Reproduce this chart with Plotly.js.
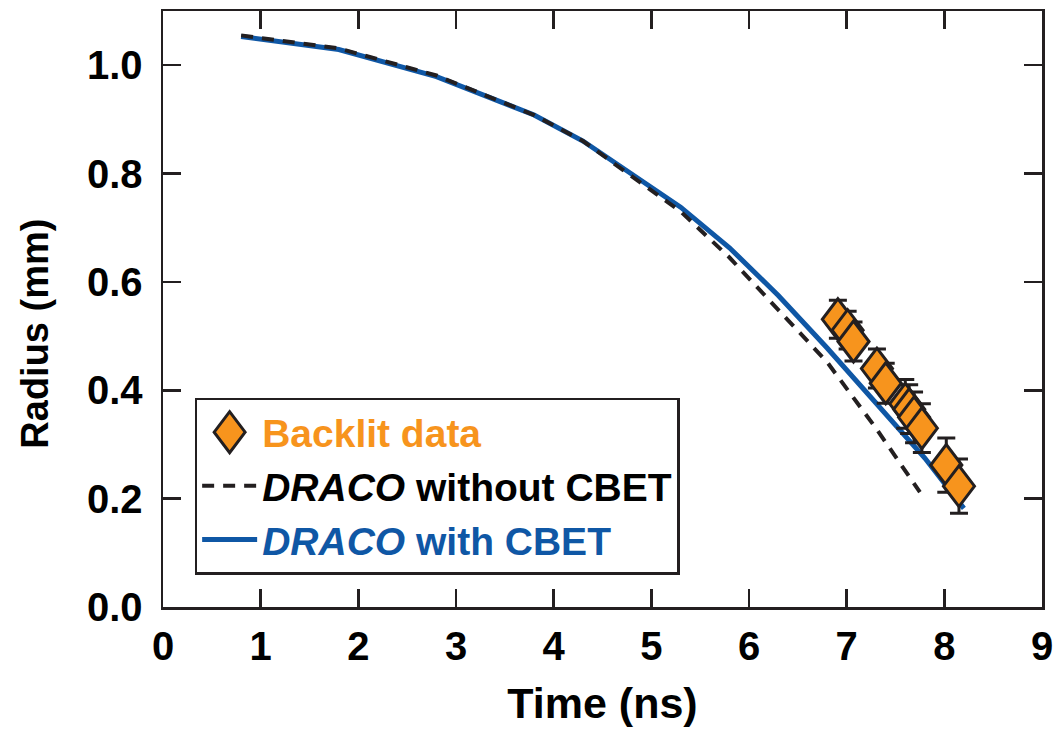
<!DOCTYPE html>
<html>
<head>
<meta charset="utf-8">
<script src="https://cdn.plot.ly/plotly-3.0.1.min.js"></script>
<style>html,body{margin:0;padding:0;background:#fff;}#chart{width:1055px;height:729px;}</style>
</head>
<body>
<div id="chart"></div>
<script>
// Simulation curves (time in ns, radius in mm)
var withCbetTime = [0.8, 1.8, 2.8, 3.8, 4.3, 4.8, 5.3, 5.8, 6.3, 6.8, 7.3, 7.8, 8.2];
var withCbetRadius = [1.053, 1.029, 0.979, 0.908, 0.860, 0.800, 0.738, 0.663, 0.575, 0.478, 0.375, 0.275, 0.182];

var withoutCbetTime = [0.8, 1.8, 2.8, 3.8, 4.3, 4.8, 5.3, 5.8, 6.3, 6.8, 7.3, 7.75];
var withoutCbetRadius = [1.055, 1.031, 0.981, 0.908, 0.860, 0.795, 0.730, 0.645, 0.548, 0.452, 0.330, 0.212];

// Backlit measurements
var dataTime = [6.91, 7.01, 7.07, 7.31, 7.40, 7.60, 7.64, 7.69, 7.77, 8.02, 8.15];
var dataRadius = [0.531, 0.511, 0.490, 0.440, 0.413, 0.375, 0.365, 0.350, 0.330, 0.262, 0.223];
var dataError = [0.035, 0.035, 0.036, 0.036, 0.037, 0.045, 0.045, 0.047, 0.045, 0.050, 0.050];

var xTicks = [0, 1, 2, 3, 4, 5, 6, 7, 8, 9];
var yTicks = [0.0, 0.2, 0.4, 0.6, 0.8, 1.0];

var ink = '#231f20';
var orange = '#f7941d';
var blue = '#0f57a5';
var fam = '"Liberation Sans", Arial, Helvetica, sans-serif';

var traces = [
  {
    x: withCbetTime, y: withCbetRadius, mode: 'lines', type: 'scatter',
    name: '<span style="color:' + blue + '"><b><i>DRACO</i> with CBET</b></span>',
    line: {color: blue, width: 5},
    legendrank: 3
  },
  {
    x: withoutCbetTime, y: withoutCbetRadius, mode: 'lines', type: 'scatter',
    name: '<b><i>DRACO</i> without CBET</b>',
    line: {color: ink, width: 4, dash: '12px,9px'},
    legendrank: 2
  },
  {
    x: dataTime, y: dataRadius, mode: 'markers', type: 'scatter',
    name: '<span style="color:' + orange + '"><b>Backlit data</b></span>',
    marker: {symbol: 'diamond', size: 26, color: orange, line: {color: ink, width: 3}},
    error_y: {type: 'data', array: dataError, visible: true, color: ink, thickness: 3, width: 9},
    legendrank: 1
  }
];

var layout = {
  width: 1055, height: 729,
  margin: {l: 163, r: 13, t: 11, b: 122},
  paper_bgcolor: '#fff', plot_bgcolor: '#fff',
  font: {family: fam, color: '#000'},
  showlegend: true,
  legend: {
    x: 0.036, y: 0.351, xanchor: 'left', yanchor: 'top',
    bgcolor: '#fff', bordercolor: ink, borderwidth: 2.5,
    font: {family: fam, size: 39, color: '#000'},
    traceorder: 'normal', itemwidth: 55
  },
  xaxis: {
    range: [0, 9], tickvals: xTicks,
    ticktext: xTicks.map(function(v){return '<b>' + v + '</b>';}),
    ticks: 'inside', ticklen: 18, tickwidth: 2.5, tickcolor: ink,
    showline: true, linecolor: ink, linewidth: 2.5, mirror: 'ticks',
    showgrid: false, zeroline: false,
    tickfont: {family: fam, size: 40, color: '#000'},
    ticklabelstandoff: 2,
    title: {text: '<b>Time (ns)</b>', font: {family: fam, size: 43, color: '#000'}, standoff: 22}
  },
  yaxis: {
    range: [0, 1.1], tickvals: yTicks,
    ticktext: yTicks.map(function(v){return '<b>' + v.toFixed(1) + '</b>';}),
    ticks: 'inside', ticklen: 18, tickwidth: 2.5, tickcolor: ink,
    showline: true, linecolor: ink, linewidth: 2.5, mirror: 'ticks',
    showgrid: false, zeroline: false,
    tickfont: {family: fam, size: 40, color: '#000'},
    ticklabelstandoff: 10
  },
  annotations: [{
    text: '<b>Radius (mm)</b>', textangle: -90, showarrow: false,
    xref: 'paper', yref: 'paper', x: -0.146, y: 0.458,
    xanchor: 'center', yanchor: 'middle',
    font: {family: fam, size: 38, color: '#000'}
  }]
};

function reshapeDiamonds() {
  var pts = document.querySelectorAll('.scatterlayer .trace .points path.point');
  pts.forEach(function(p) {
    var t = p.getAttribute('transform') || '';
    if (t.indexOf('scale') < 0) {
      p.setAttribute('transform', t + ' scale(0.92,1.21)');
      p.setAttribute('vector-effect', 'non-scaling-stroke');
      p.style.vectorEffect = 'non-scaling-stroke';
    }
  });
  var lp = document.querySelectorAll('.legend .legendpoints path.scatterpts');
  lp.forEach(function(p) {
    var t = p.getAttribute('transform') || '';
    if (t.indexOf('scale') < 0) {
      p.setAttribute('transform', t + ' scale(1.49,1.97)');
      p.setAttribute('vector-effect', 'non-scaling-stroke');
      p.style.vectorEffect = 'non-scaling-stroke';
    }
  });
}

Plotly.newPlot('chart', traces, layout, {displayModeBar: false, staticPlot: true}).then(reshapeDiamonds);
</script>
</body>
</html>
